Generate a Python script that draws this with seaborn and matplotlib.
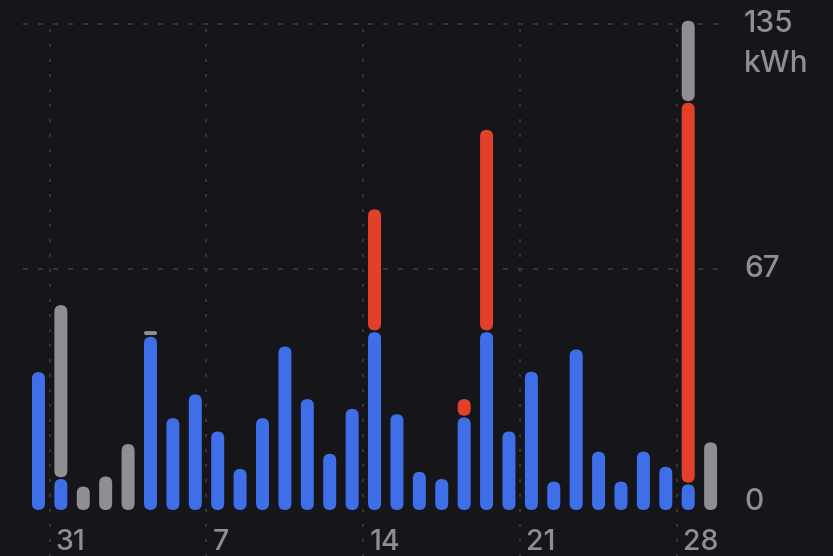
import matplotlib
matplotlib.use("Agg")
import matplotlib.pyplot as plt
import matplotlib.transforms as mtransforms
from matplotlib.patches import FancyBboxPatch
import seaborn as sns
import pandas as pd

days = ["30", "31"] + [str(d) for d in range(1, 30)]
blue = [38.3, 8.6, 0, 0, 0, 48.1, 25.5, 32.1, 21.8, 11.4, 25.5, 45.4, 30.8, 15.6, 28.1,
        49.4, 26.6, 10.6, 8.6, 25.7, 49.4, 21.8, 38.4, 7.9, 44.6, 16.2, 7.9, 16.2, 12.0, 7.1, 0]
red = [0, 0, 0, 0, 0, 0, 0, 0, 0, 0, 0, 0, 0, 0, 0,
       34.1, 0, 0, 0, 5.1, 56.2, 0, 0, 0, 0, 0, 0, 0, 0, 106.0, 0]
gray = [0, 48.3, 6.5, 9.3, 18.3, 1.6, 0, 0, 0, 0, 0, 0, 0, 0, 0,
        0, 0, 0, 0, 0, 0, 0, 0, 0, 0, 0, 0, 0, 0, 22.8, 18.8]
x_tick_days = ["31", "7", "14", "21", "28"]
y_ticks = [0, 67, 135]
unit = "kWh"

BG = "#16151a"
C_BLUE = "#3e6fe8"
C_RED = "#e3402b"
C_GRAY = "#8e8e93"
GRID = "#3c3b40"
TXT = "#8e8e93"

sns.set_theme(style="dark")
plt.rcParams["font.family"] = ["Inter", "DejaVu Sans"]
plt.rcParams["lines.scale_dashes"] = False

df = pd.DataFrame({"day": days, "blue": blue, "red": red, "gray": gray})
df["c_blue"] = df["blue"]
df["c_red"] = df["blue"] + df["red"]
df["c_gray"] = df["c_red"] + df["gray"]

W, H = 833, 556
fig = plt.figure(figsize=(W / 100, H / 100), dpi=100, facecolor=BG)
left_px, right_px, top_px, bot_px = 23, 718, 6, 510
ax = fig.add_axes([left_px / W, 1 - bot_px / H, (right_px - left_px) / W, (bot_px - top_px) / H])
ax.set_facecolor(BG)

ymax = 140
ax.set_ylim(0, ymax)

layers = [("c_gray", C_GRAY), ("c_red", C_RED), ("c_blue", C_BLUE)]
for col, c in layers:
    sns.barplot(data=df, x="day", y=col, order=days, color=c, width=0.58,
                saturation=1, ax=ax, zorder=3)

ax.set_xlim(-0.69, 30.33)
ax.set_ylim(0, ymax)

# convert seaborn's rectangles into rounded segments
n = len(days)
patches = list(ax.patches)
px_per_x = (right_px - left_px) / (30.33 + 0.69)
px_per_y = (bot_px - top_px) / ymax
gap = 1.8 / px_per_y
groups = [patches[0:n], patches[n:2 * n], patches[2 * n:3 * n]]
lower_of = {0: "c_red", 1: "c_blue", 2: None}
for gi, (grp, (col, c)) in enumerate(zip(groups, layers)):
    for i, p in enumerate(grp):
        x0 = p.get_x()
        w = p.get_width()
        top = p.get_height()
        lowcol = lower_of[gi]
        bottom = df[lowcol].iloc[i] if lowcol else 0.0
        p.remove()
        seg = top - bottom
        if seg <= 0.01:
            continue
        b = bottom + (gap if bottom > 0 else 0)
        h = max(top - b, 0.3)
        r_px = min(w * px_per_x / 2, h * px_per_y / 2)
        r = r_px / px_per_x
        fb = FancyBboxPatch((x0, b), w, h,
                            boxstyle=f"round,pad=0,rounding_size={r}",
                            mutation_aspect=px_per_x / px_per_y,
                            facecolor=c, edgecolor="none", zorder=3)
        ax.add_patch(fb)

# grid
for yv in y_ticks[1:]:
    ax.axhline(yv, color=GRID, lw=1.2, linestyle=(0, (3.6, 7.2)), zorder=1)
grid_idx = [days.index(d) - 0.5 for d in x_tick_days]
for gx in grid_idx:
    ax.axvline(gx, ymin=-0.25, ymax=135 / ymax, color=GRID, lw=1.2,
               linestyle=(0, (2.2, 8.6)), zorder=1, clip_on=False)

for s in ax.spines.values():
    s.set_visible(False)
ax.set_xticks([])
ax.set_yticks([])
ax.set_xlabel("")
ax.set_ylabel("")
ax.grid(False)

FS = 21.5
# x labels
tx = mtransforms.blended_transform_factory(ax.transData, fig.transFigure)
for d, gx in zip(x_tick_days, grid_idx):
    ax.text(gx + 6 / px_per_x, 1 - 549.5 / H, d, transform=tx, ha="left", va="baseline",
            color=TXT, fontsize=20.5, fontweight="medium")

# y labels
ty = mtransforms.blended_transform_factory(fig.transFigure, ax.transData)
for yv in y_ticks:
    ypos = yv + (8 / px_per_y if yv == 0 else 0)
    ax.text(744 / W, ypos, str(yv), transform=ty, ha="left", va="center",
            color=TXT, fontsize=FS, fontweight="medium")
ax.text(744 / W, 135 - 40 / px_per_y, unit, transform=ty, ha="left", va="center",
        color=TXT, fontsize=FS, fontweight="medium")

fig.savefig("out.png", dpi=100, facecolor=BG)
